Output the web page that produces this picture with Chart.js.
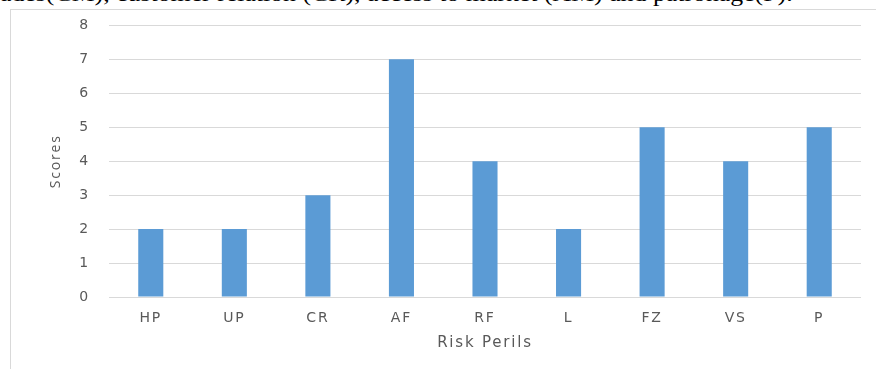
<!DOCTYPE html>
<html>
<head>
<meta charset="utf-8">
<script src="https://cdn.jsdelivr.net/npm/chart.js@4.4.0/dist/chart.umd.min.js"></script>
<style>
  html, body { margin:0; padding:0; background:#fff; }
  body { width:876px; height:369px; position:relative; overflow:hidden; }
  #caption {
    position:absolute; left:0; top:-17px; white-space:nowrap;
    font-family:"Liberation Serif", "Times New Roman", serif; font-size:22px;
    line-height:22px; color:#000; transform-origin:0 0;
  }
  #frame {
    position:absolute; left:10px; top:9px; width:900px; height:400px;
    border:1px solid #d9d9d9;
  }
  #chart { position:absolute; left:0; top:-2px; }
</style>
</head>
<body>
<div id="caption">ades(CM), customer relation (CR), access to market (AM) and patronage(P).</div>
<div id="frame"></div>
<canvas id="chart" width="876" height="371"></canvas>
<script>
// Risk perils and their scores
const perils = ['HP', 'UP', 'CR', 'AF', 'RF', 'L', 'FZ', 'VS', 'P'];
const scores = [2, 2, 3, 7, 4, 2, 5, 4, 5];
const yMin = 0, yMax = 8, yStep = 1;

// stretch the cut-off caption line to the page width it spans
const cap = document.getElementById('caption');
cap.style.transform = 'scaleX(' + (793 / cap.scrollWidth) + ')';

const grey = '#595959';

// the source picture is stretched sideways, so space the letters out a bit
const wideText = {
  id: 'wideText',
  beforeDraw(chart) { chart.ctx.letterSpacing = '1.8px'; },
};

new Chart(document.getElementById('chart').getContext('2d'), {
  type: 'bar',
  data: {
    labels: perils,
    datasets: [{
      label: 'Scores',
      data: scores,
      backgroundColor: '#5b9bd5',
      borderWidth: 0,
      barPercentage: 0.3,
      categoryPercentage: 1.0,
    }],
  },
  options: {
    responsive: false,
    animation: false,
    layout: { padding: { top: 8, right: 15, left: 0, bottom: 0 } },
    plugins: { legend: { display: false }, tooltip: { enabled: false } },
    scales: {
      x: {
        grid: { display: false },
        border: { display: false },
        ticks: { color: grey, font: { family: 'DejaVu Sans', size: 14 }, padding: 5, maxRotation: 0 },
        title: {
          display: true, text: 'Risk Perils', color: grey,
          font: { family: 'DejaVu Sans', size: 15 },
          padding: { top: 0, bottom: 17 },
        },
        afterFit: s => { s.height = 72; },
      },
      y: {
        min: yMin, max: yMax,
        grid: { color: '#d9d9d9', lineWidth: 1, drawTicks: false },
        border: { display: false },
        ticks: { stepSize: yStep, color: grey, font: { family: 'DejaVu Sans', size: 14 }, padding: 19 },
        title: {
          display: true, text: 'Scores', color: grey,
          font: { family: 'Open Sans', size: 14 },
          padding: { top: 48, bottom: 0 },
        },
        afterFit: s => { s.width = 109; },
      },
    },
  },
  plugins: [wideText],
});
</script>
</body>
</html>
